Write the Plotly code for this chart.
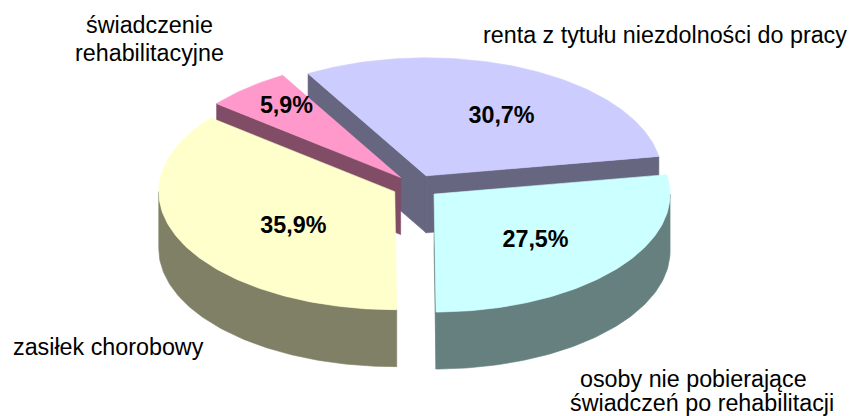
import math
import plotly.graph_objects as go

# ---- data ----
categories = [
    "renta z tytułu niezdolności do pracy",
    "osoby nie pobierające świadczeń po rehabilitacji",
    "zasiłek chorobowy",
    "świadczenie rehabilitacyjne",
]
values = [30.7, 27.5, 35.9, 5.9]
value_labels = ["30,7%", "27,5%", "35,9%", "5,9%"]

# ---- style ----
top_colors = ["#CCCCFF", "#CCFFFF", "#FFFFCC", "#FF99CC"]
side_colors = ["#666680", "#668080", "#808066", "#804C66"]
W, H = 858, 416
CX, CY = 416.0, 186.5
RX, RY = 236.0, 118.0
DEPTH = 57.0
EXPLODE = 0.1
START = 330.0  # degrees clockwise from 12 o'clock
LABEL_R = 0.6
LABEL_NUDGE = [(15, 5), (-7, 2), (26, 5), (-22, -17)]
FONT = "Liberation Sans, Arial, sans-serif"
FSIZE = 23.3
STEP = 1.0


def pt(a, cx, cy, dz=0.0):
    r = math.radians(a)
    return cx + RX * math.sin(r), cy - RY * math.cos(r) + dz


def arc(a1, a2, cx, cy, dz=0.0):
    n = max(2, int(abs(a2 - a1) / STEP) + 1)
    return [pt(a1 + (a2 - a1) * i / (n - 1), cx, cy, dz) for i in range(n)]


total = sum(values)
slices = []
a = START
for i, v in enumerate(values):
    span = 360.0 * v / total
    a1, a2 = a, a + span
    m = math.radians((a1 + a2) / 2)
    cx = CX + EXPLODE * RX * math.sin(m)
    cy = CY - EXPLODE * RY * math.cos(m)
    slices.append(dict(i=i, a1=a1, a2=a2, m=m, cx=cx, cy=cy))
    a = a2

fig = go.Figure()


def poly(points, color):
    xs = [p[0] for p in points] + [points[0][0]]
    ys = [p[1] for p in points] + [points[0][1]]
    fig.add_trace(go.Scatter(x=xs, y=ys, mode="lines", fill="toself",
                             fillcolor=color, line=dict(color=color, width=0.6),
                             hoverinfo="skip", showlegend=False))


# back to front
for s in sorted(slices, key=lambda s: s["cy"]):
    i, a1, a2, cx, cy = s["i"], s["a1"], s["a2"], s["cx"], s["cy"]
    side = side_colors[i]
    # radial faces
    for ang, normal in ((a1, a1 - 90), (a2, a2 + 90)):
        if math.cos(math.radians(normal)) < -1e-3:
            e = pt(ang, cx, cy)
            poly([(cx, cy), e, (e[0], e[1] + DEPTH), (cx, cy + DEPTH)], side)
    # outer wall (front half: 90..270 deg)
    for off in (0, 360):
        lo, hi = max(a1, 90 + off), min(a2, 270 + off)
        if hi > lo:
            top = arc(lo, hi, cx, cy)
            bot = arc(hi, lo, cx, cy, DEPTH)
            poly(top + bot, side)
    # top surface
    poly([(cx, cy)] + arc(a1, a2, cx, cy), top_colors[i])

# percentage labels
lx, ly = [], []
for s in slices:
    dx, dy = LABEL_NUDGE[s["i"]]
    lx.append(s["cx"] + LABEL_R * RX * math.sin(s["m"]) + dx)
    ly.append(s["cy"] - LABEL_R * RY * math.cos(s["m"]) + dy)
fig.add_trace(go.Scatter(x=lx, y=ly, mode="text", text=["<b>%s</b>" % t for t in value_labels],
                         textfont=dict(family=FONT, size=FSIZE, color="#000000"),
                         textposition="middle center", hoverinfo="skip",
                         showlegend=False, cliponaxis=False))

# category labels
cat_pos = [
    (["renta z tytułu niezdolności do pracy"], [(665, 35)]),
    (["osoby nie pobierające", "świadczeń po rehabilitacji"], [(693, 379), (702, 403)]),
    (["zasiłek chorobowy"], [(108, 347)]),
    (["świadczenie", "rehabilitacyjne"], [(149, 25), (149, 53)]),
]
for lines, pos in cat_pos:
    for t, (x, y) in zip(lines, pos):
        fig.add_annotation(x=x, y=y, xref="x", yref="y", text=t, showarrow=False,
                           xanchor="center", yanchor="middle",
                           font=dict(family=FONT, size=FSIZE, color="#000000"))

fig.update_layout(
    width=W, height=H, margin=dict(l=0, r=0, t=0, b=0),
    paper_bgcolor="#FFFFFF", plot_bgcolor="#FFFFFF",
    xaxis=dict(range=[0, W], visible=False, fixedrange=True),
    yaxis=dict(range=[H, 0], visible=False, fixedrange=True),
    showlegend=False,
)

fig.write_html("out.html", config={"displayModeBar": False, "staticPlot": True},
               post_script="document.body.style.margin='0';document.body.style.overflow='hidden';")
